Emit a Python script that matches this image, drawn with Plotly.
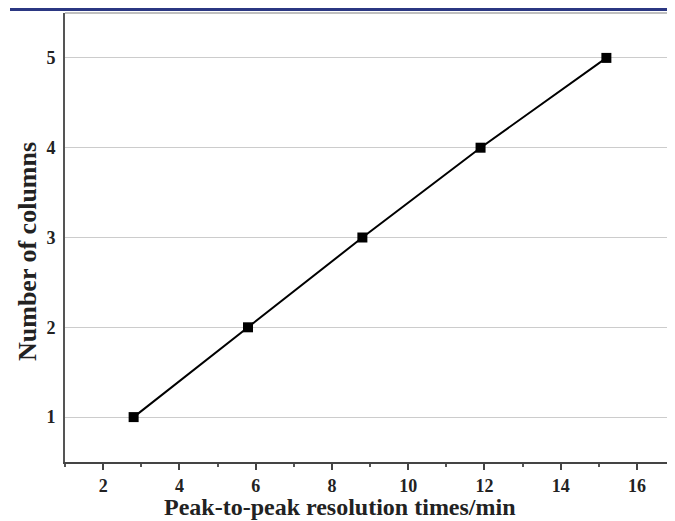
import plotly.graph_objects as go

times = [2.8, 5.8, 8.8, 11.9, 15.2]
columns = [1, 2, 3, 4, 5]
x_ticks = [2, 4, 6, 8, 10, 12, 14, 16]
y_ticks = [1, 2, 3, 4, 5]
x_title = "Peak-to-peak resolution times/min"
y_title = "Number of columns"

fig = go.Figure()
fig.add_trace(go.Scatter(
    x=times, y=columns, mode="lines+markers",
    line=dict(color="black", width=2),
    marker=dict(symbol="square", size=10, color="black"),
    showlegend=False,
))

font_family = "Liberation Serif"
# the page body has an 8px margin, so the figure is sized 8px smaller than the window
W, H = 667, 513
L, R, T, B = 57, 0, 5, 59
ph = H - T - B
pw = W - L - R
fig.update_layout(
    width=W, height=H,
    margin=dict(l=L, r=R, t=T, b=B),
    paper_bgcolor="white", plot_bgcolor="white",
    font=dict(family=font_family, color="#222"),
    xaxis=dict(
        range=[1, 17], tickvals=x_ticks, ticks="outside", ticklen=6, tickwidth=1.5,
        tickcolor="#444", showline=True, linecolor="#444", linewidth=2,
        showgrid=False, zeroline=False,
        minor=dict(dtick=1, tick0=1, ticks="outside", ticklen=3, tickcolor="#555", showgrid=False),
        tickfont=dict(size=18, family=font_family, color="#222", weight="bold"),
    ),
    yaxis=dict(
        range=[0.5, 5.5], tickvals=y_ticks, ticks="", showline=True, linecolor="#555",
        linewidth=2, showgrid=True, gridcolor="#cccccc", gridwidth=1.2, zeroline=False,
        tickfont=dict(size=18, family=font_family, color="#222", weight="bold"),
        ticklabelstandoff=4,
    ),
    annotations=[
        dict(text="<b>" + x_title + "</b>", xref="paper", yref="paper",
             x=(332 - L) / pw, y=-(499 - (H - B)) / ph, xanchor="center", yanchor="middle",
             showarrow=False, font=dict(size=24, family=font_family, color="#222")),
        dict(text="<b>" + y_title + "</b>", xref="paper", yref="paper", textangle=-90,
             x=(19 - L) / pw, y=((H - B) - 244) / ph, xanchor="center", yanchor="middle",
             showarrow=False, font=dict(size=26, family=font_family, color="#222")),
    ],
    shapes=[
        dict(type="line", xref="paper", yref="paper", x0=0, x1=1, y0=1, y1=1,
             line=dict(color="#aaaaaa", width=1.5)),
        dict(type="rect", xref="paper", yref="paper", x0=-(L - 2) / pw, x1=1.0,
             y0=1 + (T - 3) / ph, y1=1 + T / ph, fillcolor="#2b3782",
             line=dict(width=0), layer="above"),
    ],
)

fig.write_html("out.html")
